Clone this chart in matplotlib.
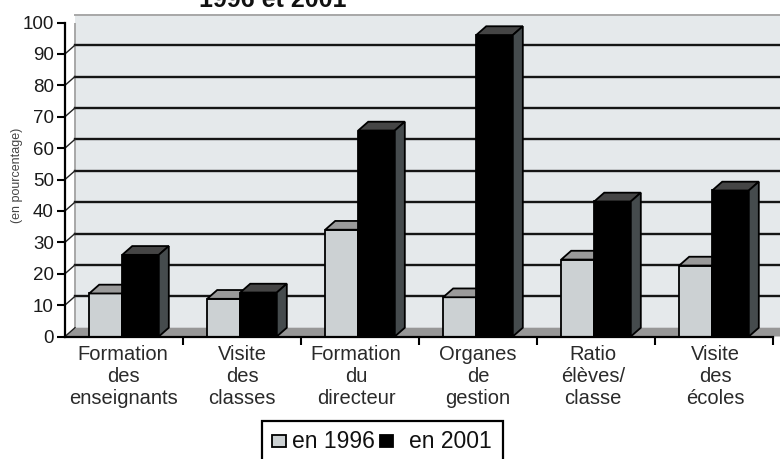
import numpy as np
import matplotlib
matplotlib.use('Agg')
import matplotlib.pyplot as plt
from matplotlib.patches import Polygon, Rectangle

plt.rcParams['font.family'] = ['Liberation Sans', 'DejaVu Sans']

categories = ['Formation\ndes\nenseignants', 'Visite\ndes\nclasses', 'Formation\ndu\ndirecteur',
              'Organes\nde\ngestion', 'Ratio\nélèves/\nclasse', 'Visite\ndes\nécoles']
en_1996 = [13.7, 12, 34, 12.5, 24.5, 22.6]
en_2001 = [26, 14, 65.6, 96, 43, 46.5]
yticks = list(range(0, 101, 10))
label_x = [123, 242, 356, 478, 593, 715]

W, H = 780, 459
fig = plt.figure(figsize=(W / 100, H / 100), dpi=100)
# axes box in pixels: x 65-773, y 336 (0) to 22 (100)
ax = fig.add_axes([65 / W, (H - 336.5) / H, 708 / W, 314 / H])
ax.set_xlim(0, 6)
ax.set_ylim(0, 100)
ax.patch.set_alpha(0)
for s in ['top', 'right']:
    ax.spines[s].set_visible(False)
for s in ['left', 'bottom']:
    ax.spines[s].set_linewidth(1.6)
    ax.spines[s].set_zorder(8)

dx = 10 / 118
dy = 2.8

# back wall and floor
ax.add_patch(Rectangle((dx, dy), 6.2, 100 - 0, fc='#e5e9eb', ec='none', zorder=0, clip_on=False))
ax.add_patch(Polygon([(0, 0), (dx, dy), (6.2, dy), (6.2 - dx, 0)], fc='#979797', ec='none', zorder=1, clip_on=False))
ax.plot([dx, dx], [dy, 100 + dy - 0.5], color='#a8a8a8', lw=1.4, zorder=1)
ax.plot([dx, 6.2], [100 + dy - 0.5, 100 + dy - 0.5], color='#a8a8a8', lw=1.4, zorder=1, clip_on=False)

# grid on the back wall
for t in yticks[1:-1]:
    ax.plot([dx, 6.2], [t + dy, t + dy], color='#151515', lw=1.7, zorder=2, clip_on=False)
for t in yticks[:-1] + [100]:
    ax.plot([0, dx], [t, t + dy], color='#222222', lw=1.0, zorder=2)

bar_w1 = 0.28
bar_w2 = 0.31
xs = np.arange(6) + 0.205


def draw_bar(x, w, v, front, top, side, z):
    ax.bar(x, v, width=w, align='edge', color=front, edgecolor='black', linewidth=1.3, zorder=z)
    ax.add_patch(Polygon([(x, v), (x + dx, v + dy), (x + w + dx, v + dy), (x + w, v)],
                         fc=top, ec='black', lw=1.3, zorder=z))
    ax.add_patch(Polygon([(x + w, 0), (x + w + dx, dy), (x + w + dx, v + dy), (x + w, v)],
                         fc=side, ec='black', lw=1.3, zorder=z))


for i in range(6):
    draw_bar(xs[i], bar_w1, en_1996[i], '#ccd1d3', '#9a9a9a', '#777777', 4 + i * 0.01)
    draw_bar(xs[i] + bar_w1, bar_w2, en_2001[i], '#000000', '#454545', '#454b4d', 5 + i * 0.01)

ax.set_yticks(yticks)
ax.set_yticklabels([str(t) for t in yticks], fontsize=13.5, color='#1a1a1a')
ax.set_xticks(range(1, 7))
ax.set_xticklabels([])
ax.tick_params(axis='y', length=6, width=1.5, direction='out', pad=2)
ax.tick_params(axis='x', length=6, width=1.5, direction='out')

for name, px in zip(categories, label_x):
    fig.text(px / W, 1 - 345 / H, name, ha='center', va='top', fontsize=14.5, color='#2a2a2a', linespacing=1.2)

fig.text(17 / W, 1 - 175 / H, '(en pourcentage)', rotation=90, ha='center', va='center', fontsize=9, color='#444444')
fig.text(273 / W, 1 - 0 / H, '1996 et 2001', ha='center', va='center', fontsize=18, fontweight='bold', color='#111111')

# legend box, runs off the bottom edge
fig.add_artist(Rectangle((262 / W, -2 / H), 241 / W, 40 / H, transform=fig.transFigure, fc='white', ec='black', lw=1.6))
fig.add_artist(Rectangle((272 / W, 1 - 447 / H), 14 / W, 12 / H, transform=fig.transFigure, fc='#ccd1d3', ec='black', lw=1.3))
fig.text(292 / W, 1 - 441 / H, 'en 1996', ha='left', va='center', fontsize=16.5, color='#111111')
fig.add_artist(Rectangle((380 / W, 1 - 447 / H), 13 / W, 12 / H, transform=fig.transFigure, fc='black', ec='black', lw=1.3))
fig.text(409 / W, 1 - 441 / H, 'en 2001', ha='left', va='center', fontsize=16.5, color='#111111')

fig.savefig('out.png', dpi=100)
